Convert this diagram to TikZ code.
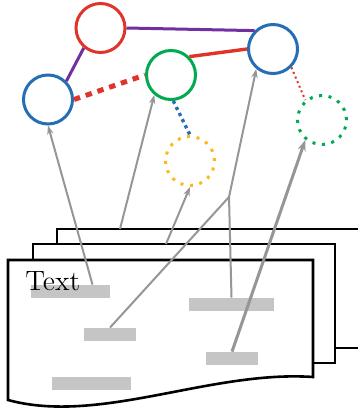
\documentclass[tikz,border=0pt]{standalone}
\usetikzlibrary{arrows.meta}

\definecolor{itemred}{RGB}{224,52,42}
\definecolor{itemblue}{RGB}{38,110,180}
\definecolor{itemgreen}{RGB}{0,170,80}
\definecolor{itemyellow}{RGB}{252,186,24}
\definecolor{itempurple}{RGB}{112,48,160}
\definecolor{linkgray}{RGB}{150,150,150}
\definecolor{snipgray}{RGB}{196,197,196}

\begin{document}
\begin{tikzpicture}[x=0.5pt,y=-0.5pt,>={Stealth[length=4.5pt,width=3.2pt]}]
    \tikzstyle{page}=[draw=black,fill=white,line width=1.3pt]
    \tikzstyle{snippet}=[fill=snipgray,minimum height=6.5pt,inner sep=0pt]
    \tikzstyle{item}=[circle,minimum size=24.5pt,inner sep=0pt,line width=1.5pt]
    \tikzstyle{ghost item}=[item,dash pattern=on 1.5pt off 3.3pt]
    \tikzstyle{link}=[->,draw=linkgray,line width=1pt]

    \useasboundingbox (0,0) rectangle (358,412);
    \clip (0,0) rectangle (358,412);

    % Draw the stack of pages, back to front
    \path[page] (57,348) -- (57,229) -- (370,229) -- (370,348) -- cycle;
    \path[page] (33,363) -- (33,244) -- (335,244) -- (335,363) -- cycle;
    \path[page] (8,260) -- (313,260) -- (313,377)
        .. controls (210,370) and (100,425) .. (8,400) -- cycle;

    % Draw the snippets on the front page
    \node[snippet,minimum width=39.5pt] (s-1) at (70.5,291.5) {};
    \node[snippet,minimum width=26pt] (s-2) at (110,334.5) {};
    \node[snippet,minimum width=42.5pt] (s-3) at (231.5,304.5) {};
    \node[snippet,minimum width=26pt] (s-4) at (232,358.5) {};
    \node[snippet,minimum width=39.5pt] (s-5) at (91.5,383.5) {};
    \node[anchor=base west,inner sep=0pt,font=\fontsize{14}{16}\selectfont] (title) at (25,290) {Text};

    % Points on the hidden pages
    \coordinate (p-1) at (120,229);
    \coordinate (p-2) at (166,244);
    \coordinate (j) at (229,197);

    % Draw the items
    \node[item,draw=itemred] (A) at (100.5,28) {};
    \node[item,draw=itemblue] (B) at (48,99.5) {};
    \node[item,draw=itemgreen] (C) at (171,75) {};
    \node[item,draw=itemblue] (D) at (273,49) {};
    \node[ghost item,draw=itemyellow] (E) at (190,161) {};
    \node[ghost item,draw=itemgreen] (F) at (322,120) {};

    % Connect the items
    \draw[itempurple,line width=1.5pt] (A.east) -- (D.135);
    \draw[itempurple,line width=1.5pt] (A.-130) -- (B.45);
    \draw[itemred,line width=1.7pt] (C.45) -- (D.west);
    \draw[itemred,line width=2.5pt,dash pattern=on 3.2pt off 3pt] (B.east) -- (C.west);
    \draw[itemblue,line width=1.7pt,dash pattern=on 1.6pt off 1.8pt] (C.-85) -- (E.north);
    \draw[itemred,line width=1pt,dash pattern=on 1pt off 1.5pt] (D.-45) -- (F.130);

    % Point every snippet at its item
    \draw[link] ([xshift=11pt]s-1.north) -- (B.south);
    \draw[link] (p-1) -- (C.-130);
    \draw[link] (p-2) -- (E.south);
    \draw[link,-] (s-2.north) -- (j);
    \draw[link,-] (s-3.north) -- (j);
    \draw[link] (j) -- (D.-130);
    \draw[link,line width=1.5pt,>={Stealth[length=5.5pt,width=4pt]}] (s-4.north) -- (F.-130);
\end{tikzpicture}
\end{document}
